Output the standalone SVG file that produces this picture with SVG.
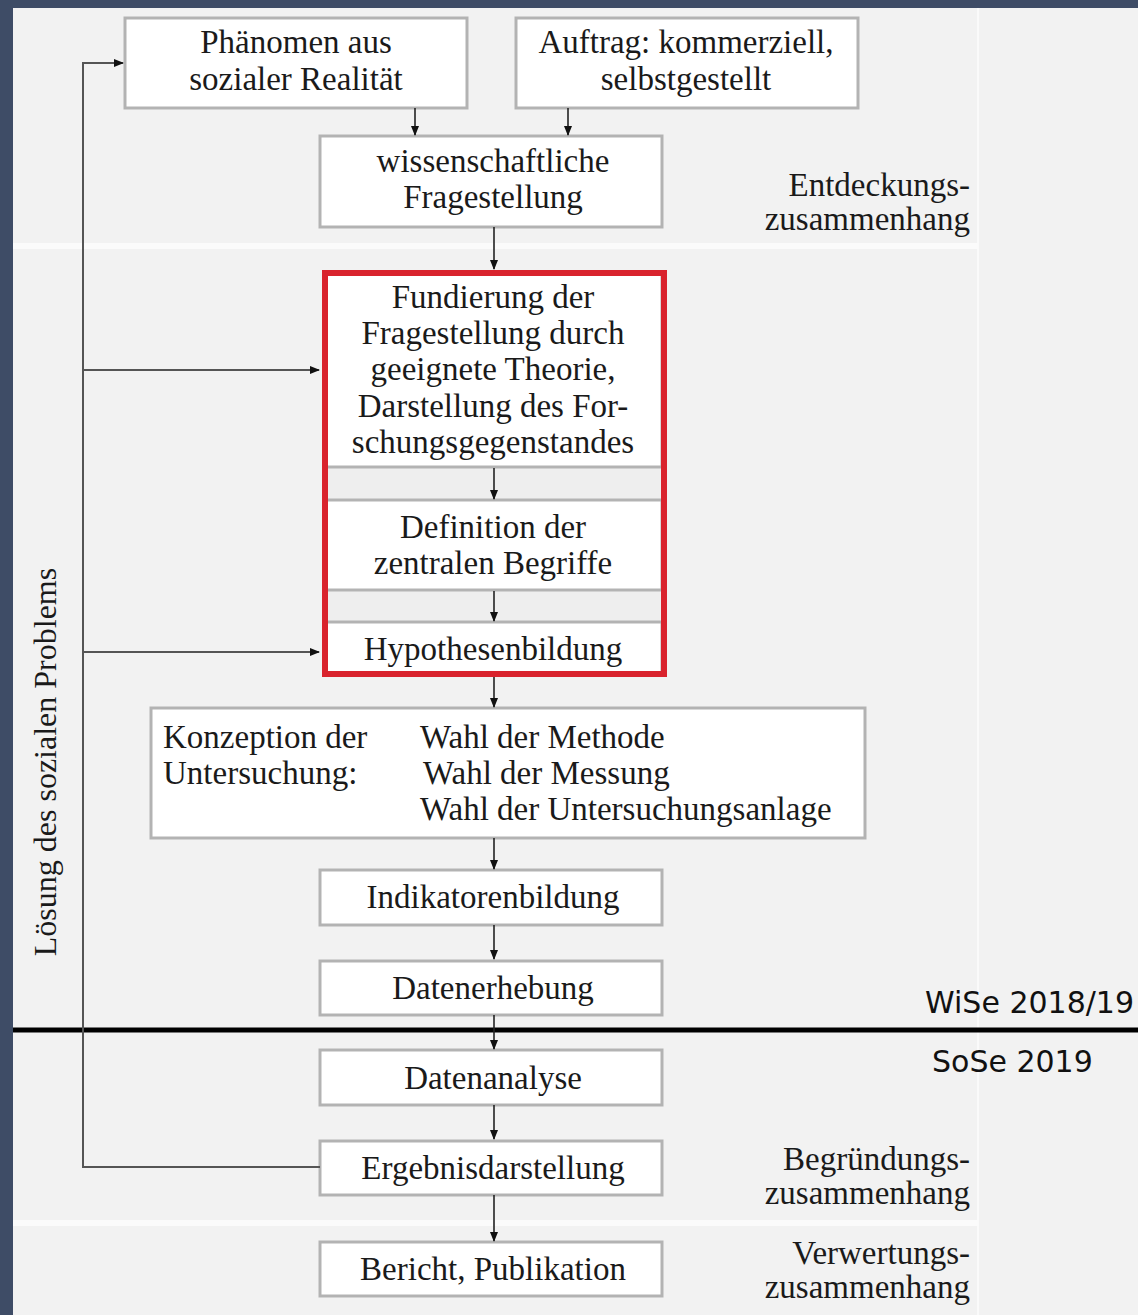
<svg xmlns="http://www.w3.org/2000/svg" width="1138" height="1315" viewBox="0 0 1138 1315">
<defs>
<style>
.box{fill:#fff;stroke:#b3b3b3;stroke-width:3}
.t{font-family:"Liberation Serif","Times New Roman",serif;font-size:33px;fill:#1a1a1a}
.c{text-anchor:middle}
.r{text-anchor:end}
.s{font-family:"DejaVu Sans",Verdana,sans-serif;font-size:30px;fill:#111}
.ln{stroke:#222;stroke-width:1.6;fill:none}
.fb{stroke:#555;stroke-width:2;fill:none}
</style>
<marker id="ah" markerUnits="userSpaceOnUse" markerWidth="10" markerHeight="8" refX="9" refY="4" orient="auto">
<path d="M0,0 L10,4 L0,8 Z" fill="#111"/>
</marker>
</defs>
<rect x="0" y="0" width="1138" height="1315" fill="#3e4c66"/>
<rect x="13" y="8" width="1125" height="1307" fill="#f2f2f2"/>
<line x1="978" y1="8" x2="978" y2="1315" stroke="#fafafa" stroke-width="2"/>
<rect x="13" y="243" width="965" height="6" fill="#fbfbfb"/>
<rect x="13" y="1220" width="965" height="6" fill="#fbfbfb"/>

<g id="phaenomen">
<rect class="box" x="125" y="18" width="342" height="90"/>
<text class="t c" x="296" y="53">Phänomen aus</text>
<text class="t c" x="296" y="90">sozialer Realität</text>
</g>
<g id="auftrag">
<rect class="box" x="516" y="18" width="342" height="90"/>
<text class="t c" x="686" y="53">Auftrag: kommerziell,</text>
<text class="t c" x="686" y="90">selbstgestellt</text>
</g>
<g id="fragestellung">
<rect class="box" x="320" y="136" width="342" height="91"/>
<text class="t c" x="493" y="172">wissenschaftliche</text>
<text class="t c" x="493" y="208">Fragestellung</text>
</g>
<g id="entdeckung">
<text class="t r" x="970" y="196">Entdeckungs-</text>
<text class="t r" x="970" y="230">zusammenhang</text>
</g>

<g id="rotbox">
<rect x="324" y="272" width="341" height="403" fill="#eeeeee"/>
<g id="fundierung">
<rect class="box" x="326" y="273" width="336" height="194"/>
<text class="t c" x="493" y="308">Fundierung der</text>
<text class="t c" x="493" y="344">Fragestellung durch</text>
<text class="t c" x="493" y="380">geeignete Theorie,</text>
<text class="t c" x="493" y="417">Darstellung des For-</text>
<text class="t c" x="493" y="453">schungsgegenstandes</text>
</g>
<g id="definition">
<rect class="box" x="326" y="500" width="336" height="90"/>
<text class="t c" x="493" y="538">Definition der</text>
<text class="t c" x="493" y="574">zentralen Begriffe</text>
</g>
<g id="hypothesen">
<rect class="box" x="326" y="622" width="336" height="52"/>
<text class="t c" x="493" y="660">Hypothesenbildung</text>
</g>
<rect x="325" y="273" width="339" height="401" fill="none" stroke="#d9232d" stroke-width="6"/>
</g>

<g id="konzeption">
<rect class="box" x="151" y="708" width="714" height="130"/>
<text class="t" x="163" y="748">Konzeption der</text>
<text class="t" x="163" y="784">Untersuchung:</text>
<text class="t" x="420" y="748">Wahl der Methode</text>
<text class="t" x="423" y="784">Wahl der Messung</text>
<text class="t" x="420" y="820">Wahl der Untersuchungsanlage</text>
</g>
<g id="indikatoren">
<rect class="box" x="320" y="870" width="342" height="55"/>
<text class="t c" x="493" y="908">Indikatorenbildung</text>
</g>
<g id="datenerhebung">
<rect class="box" x="320" y="961" width="342" height="54"/>
<text class="t c" x="493" y="999">Datenerhebung</text>
</g>
<g id="datenanalyse">
<rect class="box" x="320" y="1050" width="342" height="55"/>
<text class="t c" x="493" y="1089">Datenanalyse</text>
</g>
<g id="ergebnis">
<rect class="box" x="320" y="1141" width="342" height="54"/>
<text class="t c" x="493" y="1179">Ergebnisdarstellung</text>
</g>
<g id="bericht">
<rect class="box" x="320" y="1242" width="342" height="54"/>
<text class="t c" x="493" y="1280">Bericht, Publikation</text>
</g>

<g id="begruendung">
<text class="t r" x="970" y="1170">Begründungs-</text>
<text class="t r" x="970" y="1204">zusammenhang</text>
</g>
<g id="verwertung">
<text class="t r" x="970" y="1264">Verwertungs-</text>
<text class="t r" x="970" y="1298">zusammenhang</text>
</g>

<g id="loesung">
<text class="t c" style="font-size:32px" transform="translate(56,762) rotate(-90)">Lösung des sozialen Problems</text>
</g>

<line x1="13" y1="1030" x2="1138" y2="1030" stroke="#000" stroke-width="5"/>

<g id="connectors">
<line class="ln" x1="415" y1="108" x2="415" y2="135" marker-end="url(#ah)"/>
<line class="ln" x1="568" y1="108" x2="568" y2="135" marker-end="url(#ah)"/>
<line class="ln" x1="494" y1="227" x2="494" y2="269" marker-end="url(#ah)"/>
<line class="ln" x1="494" y1="468" x2="494" y2="499" marker-end="url(#ah)"/>
<line class="ln" x1="494" y1="591" x2="494" y2="621" marker-end="url(#ah)"/>
<line class="ln" x1="494" y1="677" x2="494" y2="707" marker-end="url(#ah)"/>
<line class="ln" x1="494" y1="838" x2="494" y2="869" marker-end="url(#ah)"/>
<line class="ln" x1="494" y1="925" x2="494" y2="959" marker-end="url(#ah)"/>
<line class="ln" x1="494" y1="1015" x2="494" y2="1049" marker-end="url(#ah)"/>
<line class="ln" x1="494" y1="1105" x2="494" y2="1139" marker-end="url(#ah)"/>
<line class="ln" x1="494" y1="1195" x2="494" y2="1241" marker-end="url(#ah)"/>
<polyline class="fb" points="320,1167 83,1167 83,63 123,63" marker-end="url(#ah)"/>
<line class="fb" x1="83" y1="370" x2="319" y2="370" marker-end="url(#ah)"/>
<line class="fb" x1="83" y1="652" x2="319" y2="652" marker-end="url(#ah)"/>
</g>

<g id="semester">
<text class="s" x="925" y="1013">WiSe 2018/19</text>
<text class="s" x="932" y="1072">SoSe 2019</text>
</g>
</svg>
